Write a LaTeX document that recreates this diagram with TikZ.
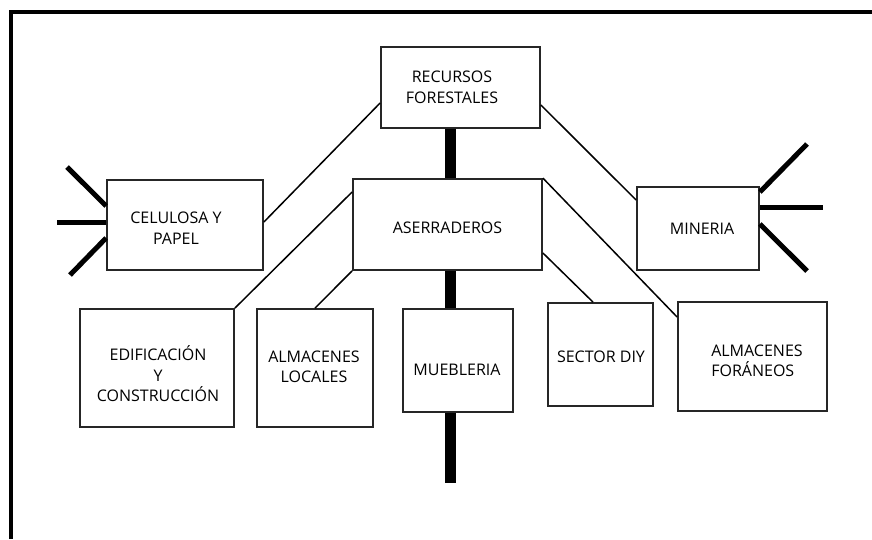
\documentclass[tikz,border=0pt]{standalone}
\usepackage{fontspec}
\setmainfont{Open Sans}
\begin{document}
\begin{tikzpicture}[x=1pt,y=-1pt,
  box/.style={draw=black!85,line width=1.8pt,rectangle,inner sep=0pt},
  txt/.style={font=\fontsize{16}{20.5}\selectfont,align=center,inner sep=0pt},
  thin/.style={line width=1.5pt},
  spike/.style={line width=5pt},
  stem/.style={line width=11pt}]
  \useasboundingbox (0,0) rectangle (872,539);
  % outer frame, open to the right and bottom
  \draw[line width=4.5pt] (11,539) -- (11,12) -- (872,12);

  % boxes
  \node[box,minimum width=159,minimum height=81,
        label={[txt,xshift=-8.5pt]center:RECURSOS\\FORESTALES}] (rec) at (460.5,87.5) {};
  \node[box,minimum width=189,minimum height=91,
        label={[txt,yshift=-3.5pt]center:ASERRADEROS}] (ase) at (447.5,224.5) {};
  \node[box,minimum width=156,minimum height=90,
        label={[txt,xshift=-9pt,yshift=-3pt]center:CELULOSA Y\\PAPEL}] (cel) at (185,225) {};
  \node[box,minimum width=122,minimum height=83,
        label={[txt,xshift=4pt]center:MINERIA}] (min) at (698,228.5) {};
  \node[box,minimum width=154,minimum height=118,
        label={[txt,xshift=1pt,yshift=-6pt]center:EDIFICACIÓN\\Y\\CONSTRUCCIÓN}] (edi) at (157,368) {};
  \node[box,minimum width=116,minimum height=118,
        label={[txt,xshift=-1pt,yshift=1pt]center:ALMACENES\\LOCALES}] (loc) at (315,368) {};
  \node[box,minimum width=110,minimum height=103,
        label={[txt,xshift=-1pt,yshift=-9.5pt]center:MUEBLERIA}] (mue) at (458,360.5) {};
  \node[box,minimum width=105,minimum height=103,
        label={[txt,xshift=0.5pt,yshift=-2.5pt]center:SECTOR DIY}] (diy) at (600.5,354.5) {};
  \node[box,minimum width=149,minimum height=109,
        label={[txt,align=left,xshift=4.5pt,yshift=-4.5pt]center:ALMACENES\\FORÁNEOS}] (for) at (752.5,356.5) {};

  % central trunk
  \coordinate (s) at (450.5,0);
  \coordinate (trunkend) at (450.5,483);
  \draw[stem] (rec.south -| s) -- (ase.north -| s);
  \draw[stem] (ase.south -| s) -- (mue.north -| s);
  \draw[stem] (mue.south -| s) -- (trunkend);

  % thin branches
  \draw[thin] ([yshift=-15.5pt]rec.west) -- ([yshift=3pt]cel.east);
  \draw[thin] ([yshift=-17.5pt]rec.east) -- ([yshift=28.5pt]min.west);
  \draw[thin] ([yshift=32.5pt]ase.west) -- (edi.north east);
  \draw[thin] (ase.south west) -- (loc.north);
  \draw[thin] (ase.north east) -- ([yshift=39.5pt]for.west);
  \draw[thin] ([yshift=-28.5pt]ase.east) -- ([xshift=-7.5pt]diy.north);

  % spikes on the left of CELULOSA Y PAPEL
  \coordinate (c1) at (67,167);
  \coordinate (c2) at (57,222);
  \coordinate (c3) at (70,275);
  \draw[spike] ([yshift=19pt]cel.west) -- (c1);
  \draw[spike] ([yshift=3pt]cel.west) -- (c2);
  \draw[spike] ([yshift=-13pt]cel.west) -- (c3);

  % spikes on the right of MINERIA
  \coordinate (m1) at (807,144);
  \coordinate (m2) at (823,207);
  \coordinate (m3) at (807,271);
  \draw[spike] ([yshift=36.5pt]min.east) -- (m1);
  \draw[spike] ([yshift=21.5pt]min.east) -- (m2);
  \draw[spike] ([yshift=4.5pt]min.east) -- (m3);
\end{tikzpicture}
\end{document}
